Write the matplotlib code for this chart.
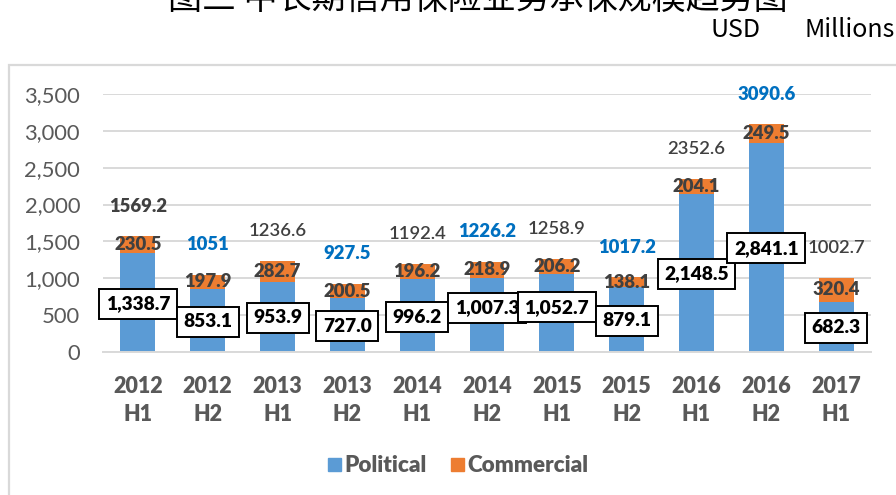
import matplotlib
matplotlib.use("Agg")
import matplotlib.pyplot as plt
from matplotlib.patches import Patch, Rectangle
from matplotlib.ticker import FuncFormatter
from matplotlib.font_manager import FontProperties

# data (USD millions)
periods = ["2012\nH1", "2012\nH2", "2013\nH1", "2013\nH2", "2014\nH1", "2014\nH2",
           "2015\nH1", "2015\nH2", "2016\nH1", "2016\nH2", "2017\nH1"]
political = [1338.7, 853.1, 953.9, 727.0, 996.2, 1007.3, 1052.7, 879.1, 2148.5, 2841.1, 682.3]
commercial = [230.5, 197.9, 282.7, 200.5, 196.2, 218.9, 206.2, 138.1, 204.1, 249.5, 320.4]
totals = [1569.2, 1051, 1236.6, 927.5, 1192.4, 1226.2, 1258.9, 1017.2, 2352.6, 3090.6, 1002.7]
total_text = ["1569.2", "1051", "1236.6", "927.5", "1192.4", "1226.2", "1258.9",
              "1017.2", "2352.6", "3090.6", "1002.7"]

BLUE = "#5B9BD5"
ORANGE = "#ED7D31"
DARK = "#404040"
GRAY = "#595959"
LABEL_BLUE = "#0070C0"
GRID = "#D9D9D9"

# the H2 totals are coloured blue in the original; 2012 H1 is bold
total_colors = [DARK, LABEL_BLUE, DARK, LABEL_BLUE, DARK, LABEL_BLUE, DARK,
                LABEL_BLUE, DARK, LABEL_BLUE, DARK]
total_weights = ["heavy", "heavy", "semibold", "heavy", "semibold", "heavy", "semibold",
                 "heavy", "semibold", "heavy", "semibold"]
# some of the boxed labels were dragged up a little in the original
pol_nudge = [-1, -1, -1, -1, -2, 7, 6, -1, -1, -1, -1]

FONT = "Lato"
CJK = ["Noto Sans CJK SC", "DejaVu Sans"]
heavy_fp = FontProperties(family=FONT, weight="heavy", size=15.5)

fig = plt.figure(figsize=(8.96, 4.95), dpi=100)
W, H = 896, 495

# light chart frame, running off the right and bottom edges
fig.add_artist(Rectangle((9 / W, -0.2), 1.2, 1.2 - 65 / H, transform=fig.transFigure,
                         fill=False, edgecolor=GRID, lw=1.6))

ax = fig.add_axes([103 / W, 1 - 352 / H, (871 - 103) / W, (352 - 94) / H])
x = list(range(len(periods)))

ax.bar(x, political, width=0.5, color=BLUE, zorder=2)
ax.bar(x, commercial, bottom=political, width=0.5, color=ORANGE, zorder=2)

ax.set_xlim(-0.5, 10.5)
ax.set_ylim(0, 3500)
ax.set_yticks(range(0, 3501, 500))
ax.yaxis.set_major_formatter(FuncFormatter(lambda v, p: f"{int(v):,}"))
ax.yaxis.grid(True, color=GRID, lw=1.4, zorder=0)
ax.set_axisbelow(True)
for s in ["top", "left", "right"]:
    ax.spines[s].set_visible(False)
ax.spines["bottom"].set_color(GRID)
ax.spines["bottom"].set_linewidth(1.4)

ax.set_xticks(x)
ax.set_xticklabels(periods, fontproperties=heavy_fp, color=GRAY, linespacing=1.42)
ax.tick_params(axis="x", length=0, pad=17)
ax.tick_params(axis="y", length=0, pad=16.5, labelsize=15.8, labelcolor=GRAY)
for lab in ax.get_yticklabels():
    lab.set_fontfamily(FONT)

# labels: total above, commercial centred in its segment, political boxed
for i in x:
    ax.annotate(total_text[i], (i, totals[i]), xytext=(0, 30), textcoords="offset pixels",
                ha="center", va="center", fontfamily=FONT, fontsize=13.3,
                fontweight=total_weights[i], color=total_colors[i], zorder=5)
    ax.annotate(f"{commercial[i]:.1f}", (i, political[i] + commercial[i] / 2),
                ha="center", va="center", fontfamily=FONT, fontsize=13.3,
                fontweight="heavy", color=DARK, zorder=5)
for i in x:
    ax.annotate(f"{political[i]:,.1f}", (i, political[i] / 2), xytext=(0, pol_nudge[i]),
                textcoords="offset pixels", ha="center", va="center", fontfamily=FONT,
                fontsize=13.8, fontweight="heavy", color="black", zorder=6,
                bbox=dict(boxstyle="square,pad=0.34", fc="white", ec="black", lw=1.4))

handles = [Patch(color=BLUE, label="Political"), Patch(color=ORANGE, label="Commercial")]
fig.legend(handles=handles, loc="center", bbox_to_anchor=(458 / W, 1 - 466 / H), ncol=2,
           frameon=False, handlelength=0.57, handleheight=0.57, handletextpad=0.15,
           columnspacing=1.1, prop=FontProperties(family=FONT, weight="heavy", size=16.2),
           labelcolor=GRAY)

# title is cut off at the top of the original picture
fig.text(478 / W, 1 - 9 / H, "图三 中长期信用保险业务承保规模趋势图", ha="center",
         va="baseline", fontsize=24.5, family=CJK, color="black")
fig.text(710 / W, 1 - 37 / H, "USD", ha="left", va="baseline", fontsize=18, family=CJK,
         color="black")
fig.text(895 / W, 1 - 37 / H, "Millions", ha="right", va="baseline", fontsize=18,
         family=CJK, color="black")

fig.savefig("out.png", dpi=100)
